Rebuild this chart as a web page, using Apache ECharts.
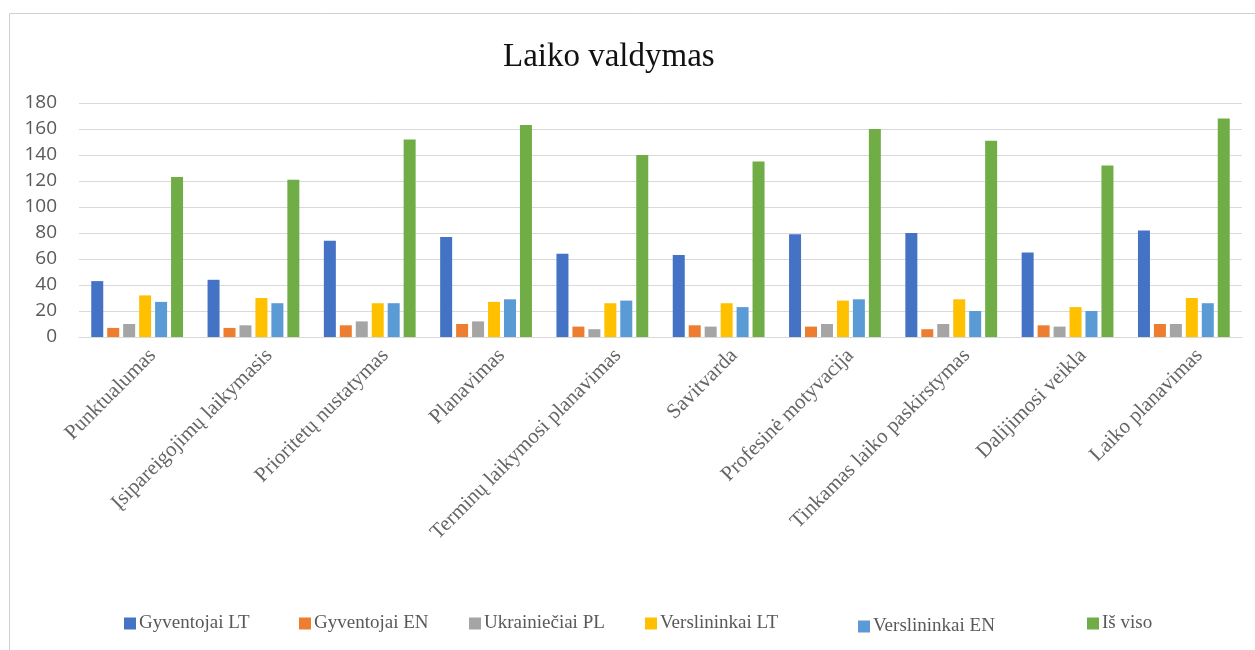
<!DOCTYPE html>
<html>
<head>
<meta charset="utf-8">
<script src="https://cdn.jsdelivr.net/npm/echarts@6/dist/echarts.min.js"></script>
<style>
  html, body { margin: 0; padding: 0; background: #fff; }
  #chart { width: 1255px; height: 650px; }
</style>
</head>
<body>
<div id="chart"></div>
<script>
// kategorijos
const categories = [
  'Punktualumas',
  'Įsipareigojimų laikymasis',
  'Prioritetų nustatymas',
  'Planavimas',
  'Terminų laikymosi planavimas',
  'Savitvarda',
  'Profesinė motyvacija',
  'Tinkamas laiko paskirstymas',
  'Dalijimosi veikla',
  'Laiko planavimas'
]

const gyventojaiLT = [43, 44, 74, 77, 64, 63, 79, 80, 65, 82]
const gyventojaiEN = [7, 7, 9, 10, 8, 9, 8, 6, 9, 10]
const ukrainieciaiPL = [10, 9, 12, 12, 6, 8, 10, 10, 8, 10]
const verslininkaiLT = [32, 30, 26, 27, 26, 26, 28, 29, 23, 30]
const verslininkaiEN = [27, 26, 26, 29, 28, 23, 29, 20, 20, 26]
const isViso = [123, 121, 152, 163, 140, 135, 160, 151, 132, 168]

const yTicks = [0, 20, 40, 60, 80, 100, 120, 140, 160, 180]

const seriesConf = [
  { name: 'Gyventojai LT', data: gyventojaiLT, color: '#4472C4', legendLeft: 124, legendTop: 614 },
  { name: 'Gyventojai EN', data: gyventojaiEN, color: '#ED7D31', legendLeft: 299, legendTop: 614 },
  { name: 'Ukrainiečiai PL', data: ukrainieciaiPL, color: '#A5A5A5', legendLeft: 469, legendTop: 614 },
  { name: 'Verslininkai LT', data: verslininkaiLT, color: '#FFC000', legendLeft: 645, legendTop: 614 },
  { name: 'Verslininkai EN', data: verslininkaiEN, color: '#5B9BD5', legendLeft: 858, legendTop: 617 },
  { name: 'Iš viso', data: isViso, color: '#70AD47', legendLeft: 1087, legendTop: 614 }
]

const chart = echarts.init(document.getElementById('chart'))

let series = []
let legends = []
for (let i = 0; i < seriesConf.length; i++) {
  let s = seriesConf[i]
  series.push({
    name: s.name,
    type: 'bar',
    data: s.data,
    barWidth: 12,
    barGap: '33%',
    itemStyle: { color: s.color },
    animation: false
  })
  // kiekvienas legendos elementas atskirai, kad sutaptų pozicijos
  legends.push({
    left: s.legendLeft,
    top: s.legendTop,
    itemWidth: 12,
    itemHeight: 12,
    padding: 0,
    icon: 'rect',
    selectedMode: false,
    textStyle: {
      fontFamily: 'Liberation Serif',
      fontSize: 19,
      color: '#595959',
      padding: [0, 0, 0, -2]
    },
    data: [s.name]
  })
}

chart.setOption({
  backgroundColor: '#fff',
  graphic: [{
    type: 'rect',
    left: 7,
    top: 11,
    shape: { width: 1300, height: 700 },
    style: { fill: 'none', stroke: '#d0d0d0', lineWidth: 1 },
    silent: true,
    z: -10
  }],
  title: {
    text: 'Laiko valdymas',
    left: 498,
    top: 36,
    textStyle: {
      fontFamily: 'Liberation Serif',
      fontSize: 33,
      fontWeight: 'normal',
      color: '#111'
    }
  },
  legend: legends,
  grid: {
    left: 79,
    right: 13,
    top: 103,
    bottom: 313,
    containLabel: false
  },
  xAxis: {
    type: 'category',
    data: categories,
    axisTick: { show: false },
    axisLine: { lineStyle: { color: '#d9d9d9' } },
    axisLabel: {
      interval: 0,
      rotate: 45,
      margin: 31,
      padding: [0, -22, 0, 0],
      fontFamily: 'Liberation Serif',
      fontSize: 21,
      color: '#666'
    }
  },
  yAxis: {
    type: 'value',
    min: yTicks[0],
    max: yTicks[yTicks.length - 1],
    interval: 20,
    axisLine: { show: false },
    axisTick: { show: false },
    splitLine: { lineStyle: { color: '#d9d9d9', width: 1 } },
    axisLabel: {
      margin: 22,
      fontFamily: 'Open Sans',
      fontSize: 19,
      color: '#595959'
    }
  },
  series: series
})
</script>
</body>
</html>
